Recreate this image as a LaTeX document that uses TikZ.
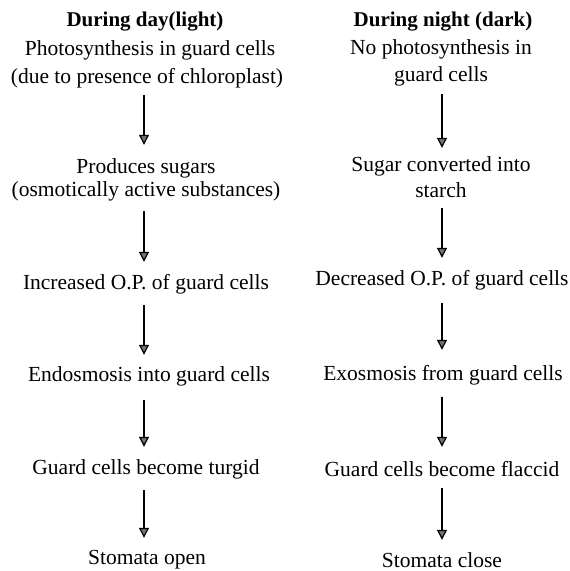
\documentclass[tikz,border=0pt]{standalone}
\usepackage{fontspec}
\setmainfont{Liberation Serif}
\usetikzlibrary{arrows.meta}
\tikzset{
  txt/.style={inner sep=0pt, anchor=base, text height=15pt, text depth=4.5pt,
              font=\fontsize{21.5}{24}\selectfont},
  ttl/.style={inner sep=0pt, anchor=base, font=\fontsize{21}{24}\selectfont\bfseries},
  arr/.style={draw=black, line width=1.2pt,
              -{Triangle[width=10pt,length=10pt,fill=black!55]}}
}
\begin{document}
\begin{tikzpicture}[x=1pt,y=-1pt]
\useasboundingbox (0,0) rectangle (570,571);
% left column
\node[ttl] (lt) at (145,26) {During day(light)};
\node[txt] (l1a) at (150,55) {Photosynthesis in guard cells};
\node[txt] (l1b) at (147,83) {(due to presence of chloroplast)};
\node[txt] (l2a) at (146,173) {Produces sugars};
\node[txt] (l2b) at (146,196) {(osmotically active substances)};
\node[txt] (l3) at (146,289) {Increased O.P. of guard cells};
\node[txt] (l4) at (149,381) {Endosmosis into guard cells};
\node[txt] (l5) at (146,474) {Guard cells become turgid};
\node[txt] (l6) at (147,564) {Stomata open};
% right column
\node[ttl] (rt) at (443,26) {During night (dark)};
\node[txt] (r1a) at (441,54) {No photosynthesis in};
\node[txt] (r1b) at (441,81) {guard cells};
\node[txt] (r2a) at (441,171) {Sugar converted into};
\node[txt] (r2b) at (441,197) {starch};
\node[txt] (r3) at (442,285) {Decreased O.P. of guard cells};
\node[txt] (r4) at (443,380) {Exosmosis from guard cells};
\node[txt] (r5) at (442,476) {Guard cells become flaccid};
\node[txt] (r6) at (442,567) {Stomata close};
% left arrows
\draw[arr, shorten <=7pt, shorten >=13pt] (l1b.south -| 144,0) -- (l2a.north -| 144,0);
\draw[arr, shorten <=10.5pt, shorten >=12pt] (l2b.south -| 144,0) -- (l3.north -| 144,0);
\draw[arr, shorten <=11.5pt, shorten >=11pt] (l3.south -| 144,0) -- (l4.north -| 144,0);
\draw[arr, shorten <=14pt, shorten >=12pt] (l4.south -| 144,0) -- (l5.north -| 144,0);
\draw[arr, shorten <=11.5pt, shorten >=11pt] (l5.south -| 144,0) -- (l6.north -| 144,0);
% right arrows
\draw[arr, shorten <=8.5pt, shorten >=8pt] (r1b.south -| 442,0) -- (r2a.north -| 442,0);
\draw[arr, shorten <=6.5pt, shorten >=12pt] (r2b.south -| 442,0) -- (r3.north -| 442,0);
\draw[arr, shorten <=13pt, shorten >=15pt] (r3.south -| 442,0) -- (r4.north -| 442,0);
\draw[arr, shorten <=12.5pt, shorten >=14pt] (r4.south -| 442,0) -- (r5.north -| 442,0);
\draw[arr, shorten <=7.5pt, shorten >=12pt] (r5.south -| 442,0) -- (r6.north -| 442,0);
\end{tikzpicture}
\end{document}
